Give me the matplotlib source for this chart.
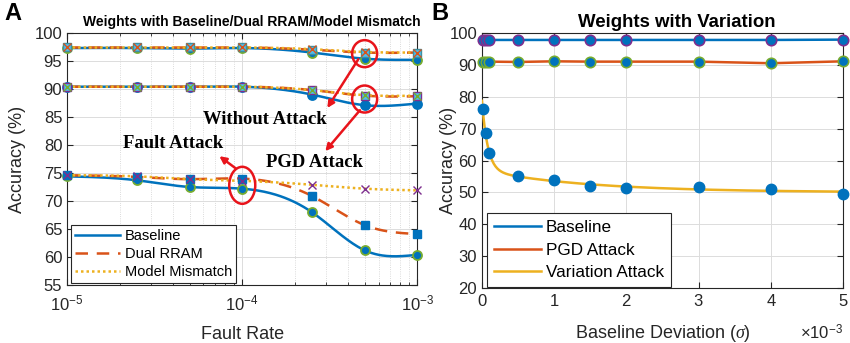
import numpy as np
import matplotlib
matplotlib.use('Agg')
import matplotlib.pyplot as plt
from matplotlib.lines import Line2D
from matplotlib.patches import Ellipse
from matplotlib.transforms import ScaledTranslation
from matplotlib.ticker import ScalarFormatter, LogLocator, NullFormatter

plt.rcParams['font.family'] = ['Liberation Sans', 'DejaVu Sans']
plt.rcParams['mathtext.fontset'] = 'custom'
plt.rcParams['mathtext.rm'] = 'Liberation Sans'
plt.rcParams['mathtext.it'] = 'Liberation Serif:italic'

# ---- panel A data ----
fault_rate = [1e-5, 2.5e-5, 5e-5, 1e-4, 2.5e-4, 5e-4, 1e-3]
base_clean = [97.3, 97.3, 97.2, 97.3, 96.5, 95.4, 95.2]
dual_clean = [97.4, 97.4, 97.4, 97.4, 97.0, 96.5, 96.5]
mism_clean = [97.4, 97.4, 97.4, 97.4, 97.1, 96.6, 96.5]
base_pgd = [90.4, 90.4, 90.4, 90.4, 89.0, 87.1, 87.4]
dual_pgd = [90.4, 90.4, 90.4, 90.4, 89.8, 88.8, 88.7]
mism_pgd = [90.4, 90.4, 90.4, 90.4, 89.8, 88.9, 88.8]
base_fault = [74.4, 73.7, 72.5, 72.2, 68.0, 61.2, 60.4]
dual_fault = [74.6, 74.3, 73.9, 74.0, 70.9, 65.7, 64.1]
mism_fault = [74.6, 74.4, 73.9, 73.6, 72.9, 72.2, 71.9]

# ---- panel B data ----
deviation = [0.01e-3, 0.05e-3, 0.1e-3, 0.5e-3, 1e-3, 1.5e-3, 2e-3, 3e-3, 4e-3, 5e-3]
base_var = [97.7, 97.7, 97.8, 97.8, 97.8, 97.8, 97.8, 97.8, 97.8, 97.9]
pgd_var = [90.8, 90.9, 91.0, 90.9, 91.1, 91.0, 91.0, 91.0, 90.5, 91.1]
attack_var = [76.0, 68.7, 62.3, 55.2, 53.9, 51.9, 51.4, 51.7, 51.2, 49.4]

BLUE = '#0072BD'
ORANGE = '#D95319'
YELLOW = '#EDB120'
PURPLE = '#7E2F8E'
GREEN = '#77AC30'
CYAN = '#4DBEEE'
RED = '#E8141B'
AXC = '#262626'


def spline(x, y, n=300):
    # natural cubic spline
    x = np.asarray(x, float); y = np.asarray(y, float)
    m = len(x); h = np.diff(x)
    A = np.zeros((m, m)); r = np.zeros(m)
    A[0, 0] = A[-1, -1] = 1
    for i in range(1, m - 1):
        A[i, i - 1] = h[i - 1]; A[i, i] = 2 * (h[i - 1] + h[i]); A[i, i + 1] = h[i]
        r[i] = 3 * ((y[i + 1] - y[i]) / h[i] - (y[i] - y[i - 1]) / h[i - 1])
    c = np.linalg.solve(A, r)
    b = (y[1:] - y[:-1]) / h - h * (2 * c[:-1] + c[1:]) / 3
    d = (c[1:] - c[:-1]) / (3 * h)
    xs = np.linspace(x[0], x[-1], n)
    k = np.clip(np.searchsorted(x, xs) - 1, 0, m - 2)
    dx = xs - x[k]
    return xs, y[k] + b[k] * dx + c[k] * dx ** 2 + d[k] * dx ** 3


def style_axes(ax):
    for s in ax.spines.values():
        s.set_color(AXC); s.set_linewidth(0.8)
    ax.tick_params(direction='in', top=True, right=True, colors=AXC, labelsize=12, length=4)
    ax.tick_params(which='minor', direction='in', top=True, right=True, colors=AXC, length=2)
    ax.grid(True, which='major', color='#dcdcdc', lw=0.7)


fig = plt.figure(figsize=(8.5, 3.43), dpi=100)
ax1 = fig.add_axes([0.079, 0.169, 0.412, 0.735])
ax2 = fig.add_axes([0.567, 0.160, 0.425, 0.744])

# ---- panel A ----
lx = np.log10(fault_rate)
groups = [
    (base_clean, dual_clean, mism_clean, (BLUE, GREEN), (CYAN, '#3f8f9f'), ORANGE),
    (base_pgd, dual_pgd, mism_pgd, (BLUE, BLUE), (CYAN, PURPLE), GREEN),
    (base_fault, dual_fault, mism_fault, (BLUE, GREEN), (BLUE, BLUE), PURPLE),
]
for b, d, mm, cmk, smk, xmk in groups:
    xs, ys = spline(lx, b)
    ax1.plot(10 ** xs, ys, color=BLUE, lw=1.8, zorder=3)
    xs, ys = spline(lx, d)
    ax1.plot(10 ** xs, ys, color=ORANGE, lw=1.8, ls=(0, (5, 3.5)), zorder=4)
    xs, ys = spline(lx, mm)
    ax1.plot(10 ** xs, ys, color=YELLOW, lw=1.8, ls=(0, (1, 1.2)), zorder=5)
    ax1.plot(fault_rate, b, 'o', ms=6.5, mfc=cmk[0], mec=cmk[1], mew=1.3, ls='none', zorder=6, clip_on=False)
    ax1.plot(fault_rate, d, 's', ms=6, mfc=smk[0], mec=smk[1], mew=1.0, ls='none', zorder=7, clip_on=False)
    ax1.plot(fault_rate, mm, 'x', ms=5.5, mec=xmk, mew=1.0, ls='none', zorder=8, clip_on=False)

ax1.set_xscale('log')
ax1.set_xlim(1e-5, 1e-3)
ax1.set_ylim(55, 100)
ax1.set_yticks(np.arange(55, 101, 5))
ax1.xaxis.set_minor_locator(LogLocator(subs=np.arange(2, 10)))
ax1.xaxis.set_minor_formatter(NullFormatter())
style_axes(ax1)
ax1.tick_params(axis='x', which='major', pad=6)
ax1.grid(True, which='minor', axis='x', color='#cfcfcf', lw=0.6, ls=':')
ax1.set_xlabel('Fault Rate', fontsize=13, color=AXC)
ax1.set_ylabel('Accuracy (%)', fontsize=13, color=AXC)
ax1.xaxis.set_label_coords(0.5, -0.163)
ax1.yaxis.set_label_coords(-0.117, 0.5)
ax1.set_title('Weights with Baseline/Dual RRAM/Model Mismatch', fontsize=10,
              fontweight='bold', x=0.526, pad=5)

# annotations
tr = fig.dpi_scale_trans
for (ex, ey, w, h) in [(5e-4, 96.3, 0.25, 0.27), (5e-4, 88.2, 0.25, 0.27), (1e-4, 72.8, 0.26, 0.37)]:
    el = Ellipse((0, 0), w, h, fill=False, ec=RED, lw=1.8,
                 transform=tr + ScaledTranslation(ex, ey, ax1.transData), zorder=10)
    ax1.add_patch(el)
arrow = dict(arrowstyle='-|>', color=RED, lw=1.8, mutation_scale=10, shrinkA=0, shrinkB=0)
ax1.annotate('', xy=(3.06e-4, 86.6), xytext=(4.6e-4, 95.3), arrowprops=arrow, zorder=10)
ax1.annotate('', xy=(2.98e-4, 78.9), xytext=(4.7e-4, 86.2), arrowprops=arrow, zorder=10)
ax1.annotate('', xy=(7.4e-5, 78.0), xytext=(9.2e-5, 75.8), arrowprops=arrow, zorder=10)
tfont = dict(family=['Liberation Serif', 'DejaVu Serif'], fontsize=13.4, fontweight='bold',
             ha='center', va='center', zorder=11)
ax1.text(1.35e-4, 84.6, 'Without Attack', **tfont)
ax1.text(4.0e-5, 80.3, 'Fault Attack', **tfont)
ax1.text(2.6e-4, 76.9, 'PGD Attack', **tfont)

h1 = [Line2D([], [], color=BLUE, lw=1.8),
      Line2D([], [], color=ORANGE, lw=1.8, ls=(0, (5, 3.5))),
      Line2D([], [], color=YELLOW, lw=1.8, ls=(0, (1, 1.2)))]
leg = ax1.legend(h1, ['Baseline', 'Dual RRAM', 'Model Mismatch'], loc='lower left',
                 bbox_to_anchor=(0.01, 0.008), borderaxespad=0, fontsize=10.5,
                 fancybox=False, framealpha=1, edgecolor=AXC, handlelength=3.1,
                 handletextpad=0.3, labelspacing=0.25, borderpad=0.3)
leg.get_frame().set_linewidth(0.8)
leg.set_zorder(20)

# ---- panel B ----
dx = np.array(deviation); dy = np.array(attack_var)
best = None
for t1 in np.linspace(0.02e-3, 0.6e-3, 59):
    for t2 in np.linspace(0.3e-3, 4e-3, 38):
        M = np.column_stack([np.ones_like(dx), np.exp(-dx / t1), np.exp(-dx / t2)])
        coef, res, *_ = np.linalg.lstsq(M, dy, rcond=None)
        err = np.sum((M @ coef - dy) ** 2)
        if best is None or err < best[0]:
            best = (err, t1, t2, coef)
_, t1, t2, coef = best
xf = np.linspace(0, 5e-3, 400)
yf = coef[0] + coef[1] * np.exp(-xf / t1) + coef[2] * np.exp(-xf / t2)

ax2.plot(deviation, base_var, color=BLUE, lw=1.8, zorder=3)
ax2.plot(deviation, pgd_var, color=ORANGE, lw=1.8, zorder=3)
ax2.plot(xf, yf, color=YELLOW, lw=1.8, zorder=3)
ax2.plot(deviation, base_var, 'o', ms=7.5, mfc=BLUE, mec=PURPLE, mew=1.2, ls='none', zorder=5, clip_on=False)
ax2.plot(deviation, pgd_var, 'o', ms=7.5, mfc=BLUE, mec=GREEN, mew=1.2, ls='none', zorder=5, clip_on=False)
ax2.plot(deviation, attack_var, 'o', ms=7.5, mfc=BLUE, mec=BLUE, ls='none', zorder=5, clip_on=False)

ax2.set_xlim(0, 5e-3)
ax2.set_ylim(20, 100)
ax2.set_yticks(np.arange(20, 101, 10))
ax2.set_xticks(np.arange(0, 5.1e-3, 1e-3))
fmt = ScalarFormatter(useMathText=True)
fmt.set_powerlimits((-2, 2))
ax2.xaxis.set_major_formatter(fmt)
style_axes(ax2)
ax2.xaxis.get_offset_text().set_visible(False)
ax2.text(1.0, -0.175, r'$\times10^{-3}$', transform=ax2.transAxes, ha='right', va='center',
         fontsize=12, color=AXC)
ax2.set_xlabel(r'Baseline Deviation ($\sigma$)', fontsize=13, color=AXC)
ax2.set_ylabel('Accuracy (%)', fontsize=13, color=AXC)
ax2.xaxis.set_label_coords(0.5, -0.135)
ax2.yaxis.set_label_coords(-0.069, 0.5)
ax2.set_title('Weights with Variation', fontsize=13.4, fontweight='bold', x=0.54, pad=4)

h2 = [Line2D([], [], color=BLUE, lw=1.8),
      Line2D([], [], color=ORANGE, lw=1.8),
      Line2D([], [], color=YELLOW, lw=1.8)]
leg2 = ax2.legend(h2, ['Baseline', 'PGD Attack', 'Variation Attack'], loc='lower left',
                  bbox_to_anchor=(0.014, 0.004), borderaxespad=0, fontsize=12.3,
                  fancybox=False, framealpha=1, edgecolor=AXC, handlelength=2.75,
                  handletextpad=0.3, labelspacing=0.45, borderpad=0.4)
leg2.get_frame().set_linewidth(0.8)
leg2.set_zorder(20)

fig.text(0.005, 0.962, 'A', fontsize=17, fontweight='bold', va='center')
fig.text(0.508, 0.962, 'B', fontsize=17, fontweight='bold', va='center')

fig.savefig('out.png', dpi=100)
